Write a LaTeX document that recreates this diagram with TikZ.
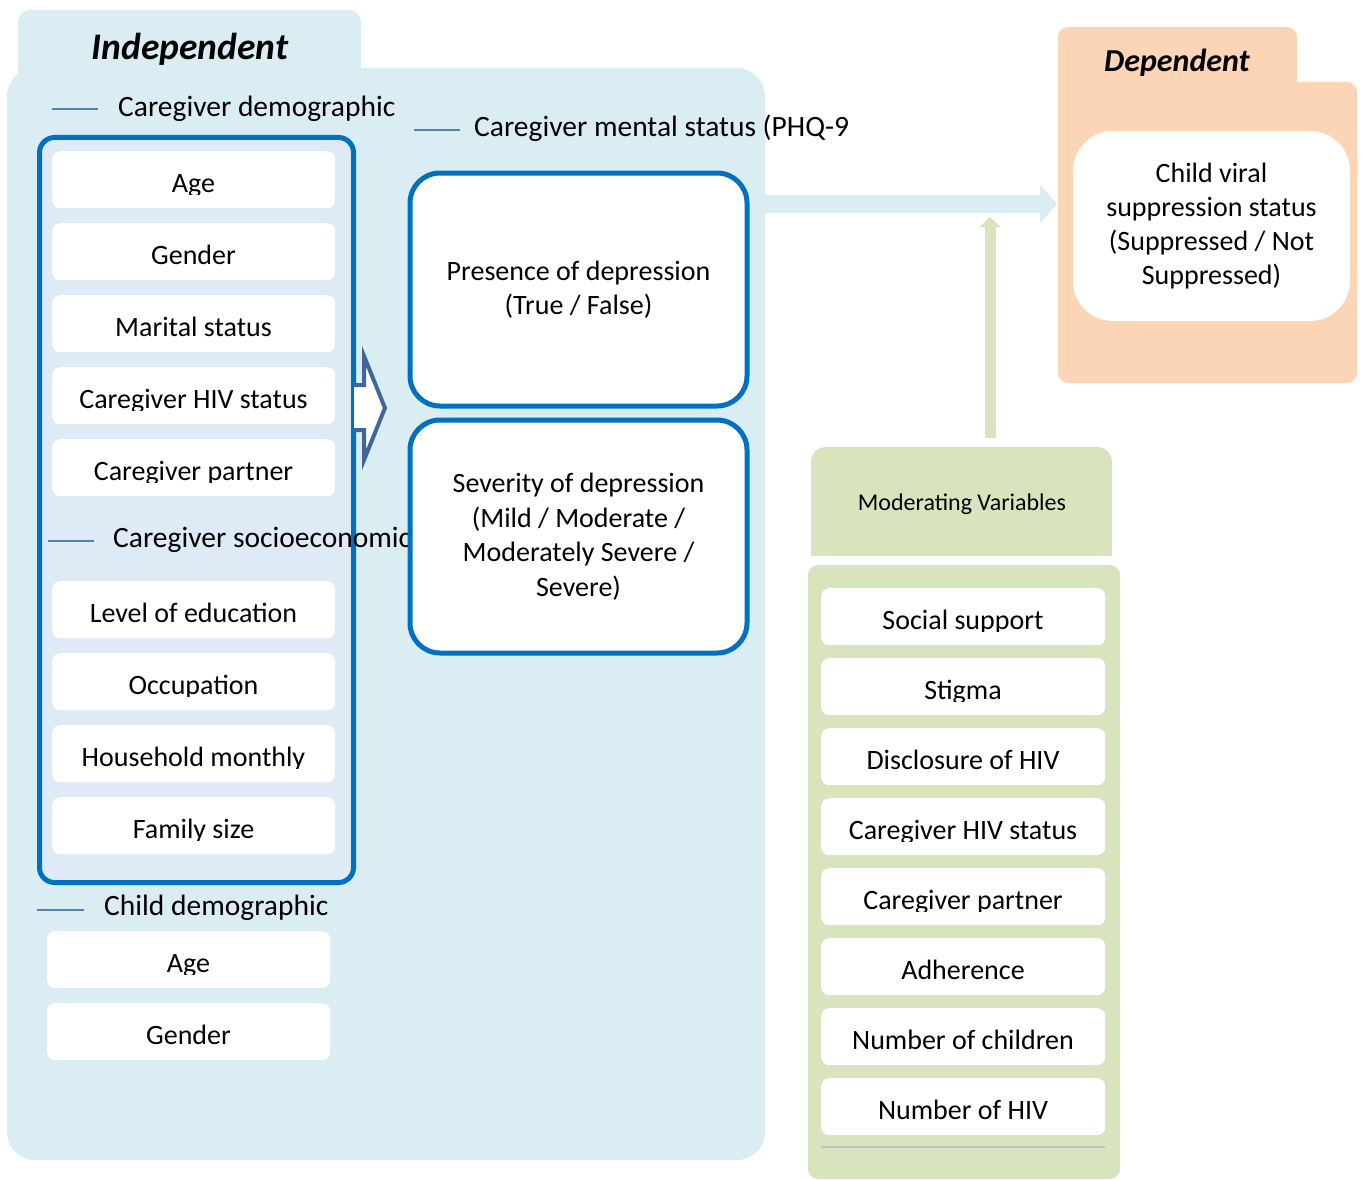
\documentclass[tikz,border=0pt]{standalone}
\usepackage{fontspec}
\setmainfont{Carlito}
\usetikzlibrary{calc,arrows.meta}
\definecolor{panelblue}{HTML}{DAEDF3}
\definecolor{innerblue}{HTML}{DEEAF5}
\definecolor{borderblue}{HTML}{0070C0}
\definecolor{headline}{HTML}{4F81BD}
\definecolor{arrowblue}{HTML}{41679A}
\definecolor{peach}{HTML}{FBD5B5}
\definecolor{sage}{HTML}{D7E4BD}
\definecolor{rulegray}{HTML}{BFBFBF}
\tikzset{
  wbox/.style={fill=white, rounded corners=8pt, minimum height=57pt, inner sep=0pt},
  boxtext/.style={font=\fontsize{28}{33}\selectfont, inner sep=0pt},
  head/.style={font=\fontsize{29.5}{35}\selectfont, anchor=west, inner sep=0pt},
  headrule/.style={headline, line width=1.5pt},
  bigbox/.style={draw=borderblue, line width=5pt, fill=white, rounded corners=30pt,
    minimum width=337pt, minimum height=233pt, inner sep=0pt, align=center,
    font=\fontsize{28}{34.5}\selectfont},
}
\newcommand\wbox[5]{% name, left x, top y, width, text
  \node[wbox, minimum width=#4pt, anchor=north west] (#1) at (#2,#3) {};
  \begin{scope}
    \clip (#2,#3) rectangle ++(#4,43);
    \node[boxtext, anchor=base] (#1-t) at ($(#2,#3)+(#4/2,41)$) {#5};
  \end{scope}}
\begin{document}
\begin{tikzpicture}[x=1pt,y=-1pt]
\useasboundingbox (0,0) rectangle (1365,1180);
% Independent panel
\fill[panelblue, rounded corners=12pt] (18,10) rectangle (361,110);
\fill[panelblue, rounded corners=28pt] (7,68) rectangle (765,1160);
\node[font=\fontsize{37.5}{42}\selectfont\bfseries\itshape, inner sep=0pt] (indep) at (190,49) {Independent};
% Dependent panel
\fill[peach, rounded corners=10pt] (1058,27) rectangle (1297,120);
\fill[peach, rounded corners=10pt] (1058,82) rectangle (1357,383);
\node[font=\fontsize{32}{38}\selectfont\bfseries\itshape, inner sep=0pt] (dep) at (1177,63) {Dependent};
\node[fill=white, rounded corners=40pt, minimum width=277pt, minimum height=190pt, inner sep=0pt,
  align=center, font=\fontsize{28}{34}\selectfont] (vl) at (1211.5,226)
  {Child viral\\suppression status\\(Suppressed / Not\\Suppressed)};
% Moderating panel
\fill[sage, rounded corners=15pt] (811,447) rectangle (1112,556);
\fill[sage] (811,500) rectangle (1112,556);
\node[font=\fontsize{24}{29}\selectfont, inner sep=0pt] (modt) at (962,504) {Moderating Variables};
\fill[sage, rounded corners=10pt] (808,565) rectangle (1120,1179);
% headers
\coordinate (r1a) at (52,109); \coordinate (r1b) at (98,109);
\draw[headrule] (r1a) -- (r1b);
\node[head] (h1) at (118,109) {Caregiver demographic};
\coordinate (r2a) at (414,130); \coordinate (r2b) at (460,130);
\draw[headrule] (r2a) -- (r2b);
\node[head] (h2) at (474,128) {Caregiver mental status (PHQ-9};
% caregiver box
\node[draw=borderblue, line width=5pt, fill=innerblue, rounded corners=15pt, minimum width=314pt,
  minimum height=745pt, anchor=north west, inner sep=0pt] (cgbox) at (37,135) {};
\wbox{a1}{52}{151}{283}{Age}
\wbox{a2}{52}{223}{283}{Gender}
\wbox{a3}{52}{295}{283}{Marital status}
\wbox{a4}{52}{367}{283}{Caregiver HIV status}
\wbox{a5}{52}{439}{283}{Caregiver partner}
\coordinate (r3a) at (48,541); \coordinate (r3b) at (94,541);
\draw[headrule] (r3a) -- (r3b);
\node[head] (h3) at (113,540) {Caregiver socioeconomic};
\wbox{b1}{52}{581}{283}{Level of education}
\wbox{b2}{52}{653}{283}{Occupation}
\wbox{b3}{52}{725}{283}{Household monthly}
\wbox{b4}{52}{797}{283}{Family size}
% child
\coordinate (r4a) at (37,910); \coordinate (r4b) at (84,910);
\draw[headrule] (r4a) -- (r4b);
\node[head] (h4) at (104,908) {Child demographic};
\wbox{c1}{47}{931}{283}{Age}
\wbox{c2}{47}{1003}{283}{Gender}
% block arrow
\filldraw[fill=white, draw=arrowblue, line width=4pt, line join=miter]
  (354,385) -- (364,385) -- (364,356) -- (385,408) -- (364,460) -- (364,430) -- (354,430);
% depression boxes
\node[bigbox] (pres) at (578.5,289.5) {Presence of depression\\(True / False)};
\node[bigbox] (sev) at (578.5,536.5) {Severity of depression\\(Mild / Moderate /\\Moderately Severe /\\Severe)};
% moderating items
\wbox{m1}{821}{588}{284}{Social support}
\wbox{m2}{821}{658}{284}{Stigma}
\wbox{m3}{821}{728}{284}{Disclosure of HIV}
\wbox{m4}{821}{798}{284}{Caregiver HIV status}
\wbox{m5}{821}{868}{284}{Caregiver partner}
\wbox{m6}{821}{938}{284}{Adherence}
\wbox{m7}{821}{1008}{284}{Number of children}
\wbox{m8}{821}{1078}{284}{Number of HIV}
\coordinate (g1) at (821,1147); \coordinate (g2) at (1105,1147);
\draw[rulegray, line width=1.5pt] (g1) -- (g2);
% connectors
\coordinate (ha) at (765,204); \coordinate (hb) at (1057,204);
\draw[panelblue, line width=18pt, -{Triangle[length=17pt,width=38pt]}] (ha) -- (hb);
\coordinate (ga) at (990,438); \coordinate (gb) at (990,217);
\draw[sage, line width=11pt, -{Triangle[length=10pt,width=21pt]}] (ga) -- (gb);
\end{tikzpicture}
\end{document}
